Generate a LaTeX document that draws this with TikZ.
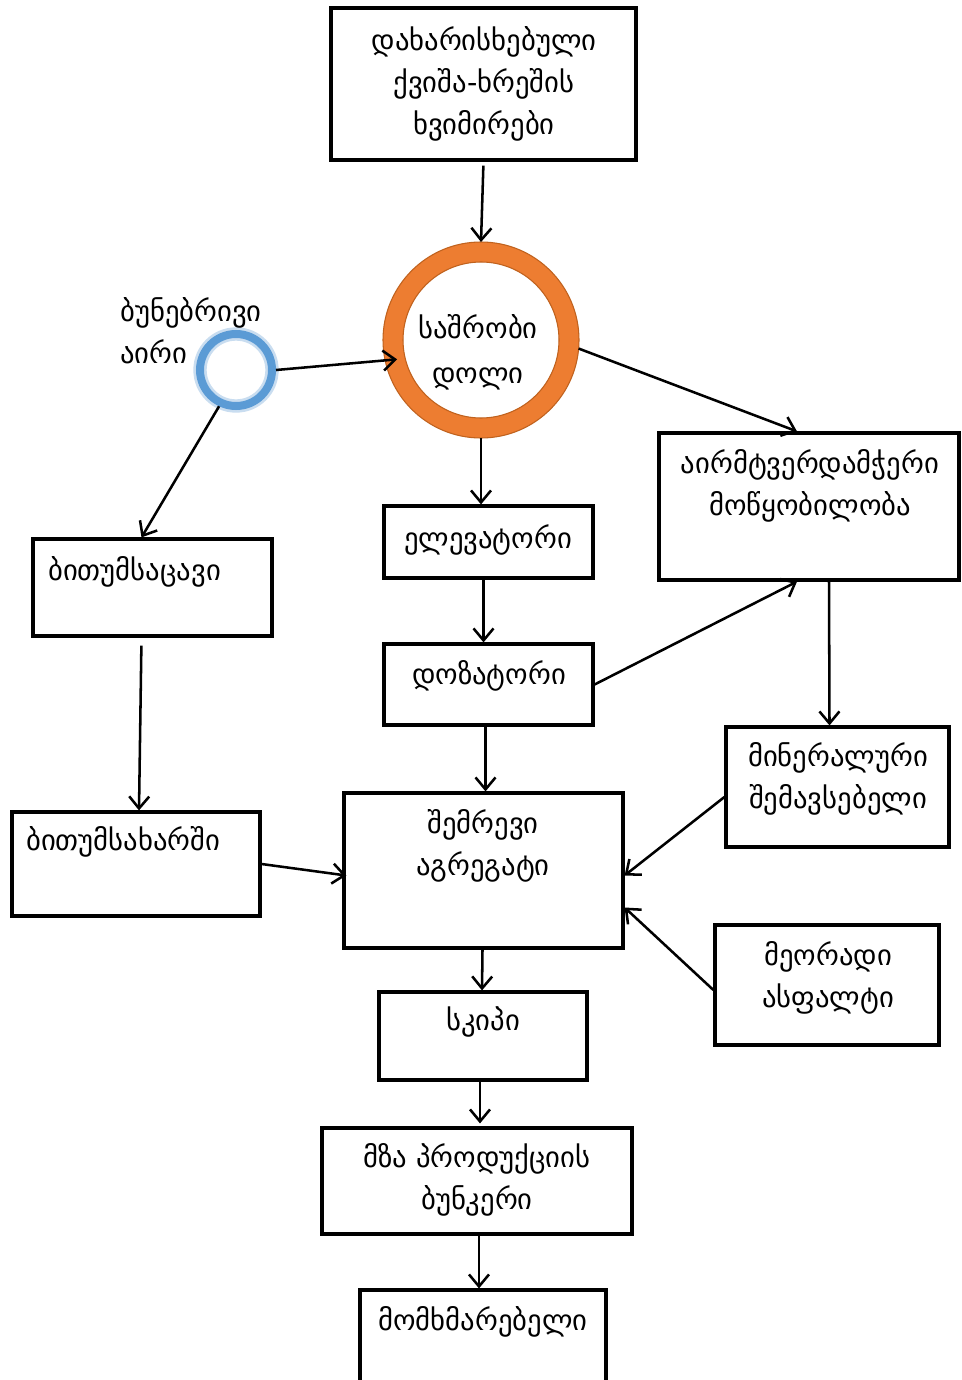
\documentclass[tikz,border=0pt]{standalone}
\usepackage{fontspec}
\setmainfont{DejaVu Sans}
\usetikzlibrary{arrows.meta,fit,calc}
\definecolor{drumorange}{HTML}{ED7D31}
\definecolor{drumedge}{HTML}{C0621E}
\definecolor{gasblue}{HTML}{5B9BD5}
\definecolor{gasglow}{HTML}{C9DDF0}
\begin{document}
\begin{tikzpicture}[x=0.75pt,y=-0.75pt,
  box/.style={draw=black, line width=2.4pt, inner sep=0pt},
  txt/.style={font=\fontsize{21.5}{31.5}\selectfont, align=center, inner sep=0pt},
  arr/.style={line width=1.9pt, -{Straight Barb[length=9pt,width=15pt,line width=1.9pt]}}]
\useasboundingbox (0,0) rectangle (961,1380);
\clip (0,0) rectangle (961,1380);
\fill[white] (0,0) rectangle (961,1380);

% boxes
\node[box, fit={(331,8) (636,160)}] (top) {};
\node[box, fit={(659,433) (959,580)}] (aer) {};
\node[box, fit={(33,539) (272,636)}] (bs) {};
\node[box, fit={(384,506) (593,578)}] (elev) {};
\node[box, fit={(384,644) (593,725)}] (doz) {};
\node[box, fit={(726,727) (949,847)}] (min) {};
\node[box, fit={(12,812) (260,916)}] (bsk) {};
\node[box, fit={(344,793) (623,948)}] (mix) {};
\node[box, fit={(715,925) (939,1045)}] (sa) {};
\node[box, fit={(379,992) (587,1080)}] (skip) {};
\node[box, fit={(322,1128) (632,1234)}] (bun) {};
\node[box, fit={(360,1290) (606,1420)}] (cons) {};

% drum ring
\node[circle, draw=drumorange, line width=15pt, minimum size=132pt] (drum) at (481,340) {};
\node[circle, draw=drumedge, line width=0.8pt, minimum size=147pt, inner sep=0pt] (drumout) at (drum.center) {};
\node[circle, draw=drumedge, line width=0.8pt, minimum size=117pt, inner sep=0pt] (drumin) at (drum.center) {};

% gas ring
\node[circle, draw=gasglow, line width=10pt, minimum size=54pt] (gasglow) at (236,370) {};
\node[circle, draw=gasblue, line width=6pt, minimum size=54pt] (gas) at (236,370) {};

% texts
\node[txt] (ttop) at (484,84) {დახარისხებული\\ქვიშა-ხრეშის\\ხვიმირები};
\node[txt, align=left, anchor=west] (tgas) at (120,331) {ბუნებრივი\\აირი};
\node[txt, font=\fontsize{21.5}{33.75}\selectfont] (tdrum) at (478,352) {საშრობი\\დოლი};
\node[txt] (taer) at (810,486) {აირმტვერდამჭერი\\მოწყობილობა};
\node[txt, anchor=west] (tbs) at (48,572) {ბითუმსაცავი};
\node[txt] (telev) at (488,540) {ელევატორი};
\node[txt] (tdoz) at (489,676) {დოზატორი};
\node[txt] (tmin) at (838,779) {მინერალური\\შემავსებელი};
\node[txt, anchor=west] (tbsk) at (26,842) {ბითუმსახარში};
\node[txt] (tmix) at (483,846) {შემრევი\\აგრეგატი};
\node[txt] (tsa) at (828,978) {მეორადი\\ასფალტი};
\node[txt] (tskip) at (483,1022) {სკიპი};
\node[txt] (tbun) at (477,1180) {მზა პროდუქციის\\ბუნკერი};
\node[txt] (tcons) at (483,1322) {მომხმარებელი};

% connectors
\draw[arr, shorten <=3pt] (top.south) -- (drum.north);
\draw[arr, shorten >=-9pt] (gas.east) -- (drum.192);
\draw[arr] (drum.-5) -- ($(aer.north)+(-12,0)$);
\draw[arr] (gas.-115) -- ($(bs.north)+(-11,0)$);
\draw[arr] (drum.south) -- (drum.south |- elev.north);
\draw[arr] ($(elev.south)+(-5,0)$) -- ($(doz.north)+(-5,0)$);
\draw[arr] (doz.east) -- ($(aer.south)+(-12,0)$);
\draw[arr] ($(aer.south)+(20,0)$) -- ($(min.north)+(-8,0)$);
\draw[arr, shorten <=6pt] ($(bs.south)+(-11,0)$) -- ($(bsk.north)+(3,0)$);
\draw[arr] ($(doz.south)+(-3,0)$) -- ($(mix.north)+(2,0)$);
\draw[arr] (bsk.east) -- ($(mix.west)+(4,5)$);
\draw[arr] ($(min.west)+(0,10)$) -- ($(mix.east)+(0,5)$);
\draw[arr] ($(sa.west)+(0,5)$) -- ($(mix.east)+(0,37)$);
\draw[arr] ($(mix.south)+(-1,0)$) -- ($(skip.north)+(-1,0)$);
\draw[arr] ($(skip.south)+(-3,0)$) -- ($(bun.north)+(3,-3)$);
\draw[arr] ($(bun.south)+(2,0)$) -- ($(cons.north)+(-4,0)$);
\end{tikzpicture}
\end{document}
